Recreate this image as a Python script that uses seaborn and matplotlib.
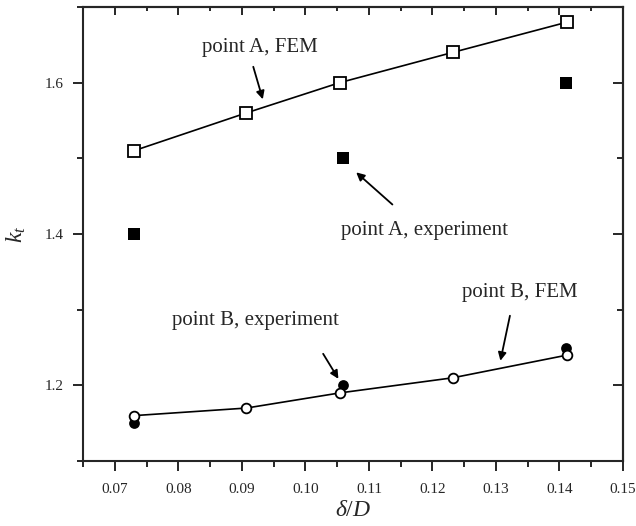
import pandas as pd
import seaborn as sns
import matplotlib
matplotlib.use('Agg')
import matplotlib.pyplot as plt
from matplotlib.ticker import MultipleLocator

# delta/D values
x_fem = [0.073, 0.0907, 0.1054, 0.1232, 0.1412]
a_fem = [1.51, 1.56, 1.60, 1.64, 1.68]
b_fem = [1.16, 1.17, 1.19, 1.21, 1.24]

x_exp = [0.073, 0.106, 0.141]
a_exp = [1.40, 1.50, 1.60]
b_exp = [1.15, 1.20, 1.25]

sns.set_style('ticks')
plt.rcParams['font.family'] = ['Liberation Serif', 'DejaVu Serif']
plt.rcParams['mathtext.fontset'] = 'custom'
plt.rcParams['mathtext.rm'] = 'Liberation Serif'
plt.rcParams['mathtext.it'] = 'Liberation Serif:italic'

fig, ax = plt.subplots(figsize=(6.36, 5.26), dpi=100)
fig.subplots_adjust(left=0.1305, right=0.9796, top=0.9867, bottom=0.1235)

fem = pd.DataFrame({'x': x_fem, 'A': a_fem, 'B': b_fem})
exp = pd.DataFrame({'x': x_exp, 'A': a_exp, 'B': b_exp})

# experiment points (filled), drawn first so open FEM markers sit on top
sns.scatterplot(data=exp, x='x', y='A', marker='s', color='black', s=70,
                edgecolor='black', linewidth=0, ax=ax, zorder=3)
sns.scatterplot(data=exp, x='x', y='B', marker='o', color='black', s=60,
                edgecolor='black', linewidth=0, ax=ax, zorder=3)

# FEM lines with open markers
sns.lineplot(data=fem, x='x', y='A', color='black', lw=1.2, marker='s', ms=8,
             markerfacecolor='white', markeredgecolor='black', mew=1.3, ax=ax, zorder=4)
sns.lineplot(data=fem, x='x', y='B', color='black', lw=1.2, marker='o', ms=7,
             markerfacecolor='white', markeredgecolor='black', mew=1.3, ax=ax, zorder=4)

ax.set_xlim(0.065, 0.15)
ax.set_ylim(1.1, 1.7)
ax.xaxis.set_major_locator(MultipleLocator(0.01))
ax.xaxis.set_minor_locator(MultipleLocator(0.005))
ax.yaxis.set_major_locator(MultipleLocator(0.2))
ax.yaxis.set_minor_locator(MultipleLocator(0.1))
ax.xaxis.set_major_formatter(plt.FuncFormatter(lambda v, p: f'{v:.2f}'))
ax.yaxis.set_major_formatter(plt.FuncFormatter(lambda v, p: f'{v:.1f}'))

ax.tick_params(which='major', direction='out', length=7, width=1.4, labelsize=11)
ax.tick_params(axis='x', which='major', pad=9)
ax.tick_params(axis='y', which='major', pad=7)
ax.tick_params(which='minor', direction='out', length=4, width=1.4)
for s in ax.spines.values():
    s.set_linewidth(1.5)
    s.set_visible(True)

# mirrored ticks pointing inward on top and right
top = ax.secondary_xaxis('top')
top.xaxis.set_major_locator(MultipleLocator(0.01))
top.xaxis.set_minor_locator(MultipleLocator(0.005))
top.tick_params(which='major', direction='in', length=6, width=1.4, labeltop=False)
top.tick_params(which='minor', direction='in', length=3, width=1.4)
top.spines['top'].set_linewidth(1.5)
right = ax.secondary_yaxis('right')
right.yaxis.set_major_locator(MultipleLocator(0.2))
right.yaxis.set_minor_locator(MultipleLocator(0.1))
right.tick_params(which='major', direction='in', length=7, width=1.4, labelright=False)
right.tick_params(which='minor', direction='in', length=4, width=1.4)
right.spines['right'].set_linewidth(1.5)

ax.set_xlabel(r'$\delta/D$', fontsize=17, labelpad=3)
ax.set_ylabel(r'$k_t$', fontsize=17, labelpad=12)

txt = dict(fontsize=15, ha='center', va='center')
arr = dict(arrowstyle='-|>', color='black', lw=1.3, mutation_scale=12, shrinkA=0, shrinkB=0)

ax.text(0.0929, 1.646, 'point A, FEM', **txt)
ax.annotate('', xy=(0.0933, 1.578), xytext=(0.0918, 1.621), arrowprops=arr)

ax.text(0.1188, 1.405, 'point A, experiment', **txt)
ax.annotate('', xy=(0.1080, 1.4815), xytext=(0.1137, 1.439), arrowprops=arr)

ax.text(0.1337, 1.3225, 'point B, FEM', **txt)
ax.annotate('', xy=(0.1307, 1.2325), xytext=(0.1322, 1.292), arrowprops=arr)

ax.text(0.0922, 1.2854, 'point B, experiment', **txt)
ax.annotate('', xy=(0.1052, 1.2086), xytext=(0.1028, 1.2417), arrowprops=arr)

fig.savefig('out.png', dpi=100)
